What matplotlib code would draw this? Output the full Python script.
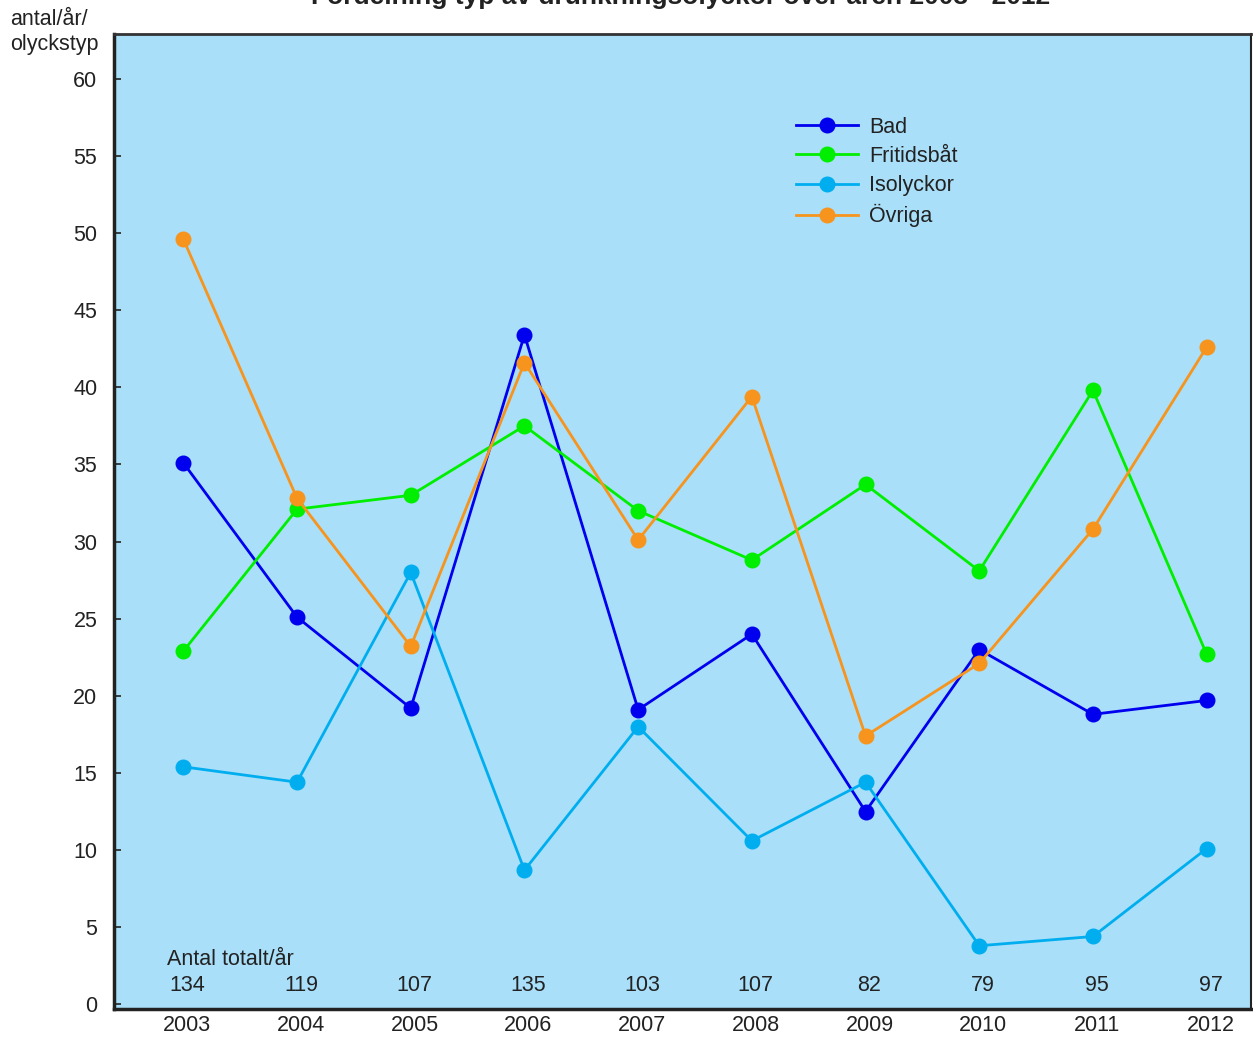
import matplotlib
matplotlib.use("Agg")
import matplotlib.pyplot as plt
import matplotlib.transforms as mtransforms

plt.rcParams['font.family'] = ['Liberation Sans', 'DejaVu Sans']

years = [2003, 2004, 2005, 2006, 2007, 2008, 2009, 2010, 2011, 2012]
bad = [35.1, 25.1, 19.2, 43.4, 19.1, 24.0, 12.5, 23.0, 18.8, 19.7]
fritidsbat = [22.9, 32.1, 33.0, 37.5, 32.0, 28.8, 33.7, 28.1, 39.8, 22.7]
isolyckor = [15.4, 14.4, 28.0, 8.7, 18.0, 10.6, 14.4, 3.8, 4.4, 10.1]
ovriga = [49.6, 32.8, 23.2, 41.6, 30.1, 39.4, 17.4, 22.1, 30.8, 42.6]
totals = [134, 119, 107, 135, 103, 107, 82, 79, 95, 97]
yticks = [0, 5, 10, 15, 20, 25, 30, 35, 40, 45, 50, 55, 60]

series = [
    ("Bad", bad, "#0000EE"),
    ("Fritidsbåt", fritidsbat, "#00EE00"),
    ("Isolyckor", isolyckor, "#00AEEF"),
    ("Övriga", ovriga, "#F7941D"),
]

FS = 15.5
fig = plt.figure(figsize=(12.53, 10.37), dpi=100)
ax = fig.add_axes([114/1253, 1 - 1009/1037, (1251-114)/1253, (1009-34)/1037])
ax.set_facecolor("#A9DFF9")

for name, vals, col in series:
    ax.plot(years, vals, color=col, lw=2.0, marker='o', ms=10.5, label=name, zorder=3)

ax.set_xlim(2002.39, 2012.39)
ax.set_ylim(-0.3, 62.9)
ax.set_yticks(yticks)
ax.set_xticks(years)
ax.tick_params(axis='y', direction='in', length=5, width=1.2, labelsize=FS, pad=12, colors='#222222')
ax.tick_params(axis='x', length=0, labelsize=FS, pad=4, colors='#222222')
offset = mtransforms.ScaledTranslation(4/100, 0, fig.dpi_scale_trans)
for lab in ax.get_xticklabels():
    lab.set_transform(lab.get_transform() + offset)

for s in ['left', 'bottom']:
    ax.spines[s].set_linewidth(2.5)
    ax.spines[s].set_color('#222222')
ax.spines['top'].set_linewidth(2.0)
ax.spines['top'].set_color('#333333')
ax.spines['right'].set_linewidth(1.5)
ax.spines['right'].set_color('#222222')

ax.text(2002.86, 2.55, "Antal totalt/år", fontsize=FS, color='#222222', ha='left', va='baseline')
for yr, t in zip(years, totals):
    ax.text(yr + 0.035, 0.85, str(t), fontsize=FS, color='#222222', ha='center', va='baseline')

fig.text(10/1253, 1 - 25/1037, "antal/år/", fontsize=FS, color='#222222', ha='left', va='baseline')
fig.text(10/1253, 1 - 50/1037, "olyckstyp", fontsize=FS, color='#222222', ha='left', va='baseline')
fig.text(681/1253, 1 - 4/1037, "Fördelning typ av drunkningsolyckor över åren 2003 - 2012",
         fontsize=19, fontweight='bold', color='#222222', ha='center', va='baseline')

leg = ax.legend(loc='upper left', bbox_to_anchor=(0.592, 0.924), frameon=False, fontsize=FS,
                handlelength=2.9, handletextpad=0.5, labelspacing=0.38, borderaxespad=0)
for t in leg.get_texts():
    t.set_color('#222222')

fig.savefig("out.png", dpi=100)
